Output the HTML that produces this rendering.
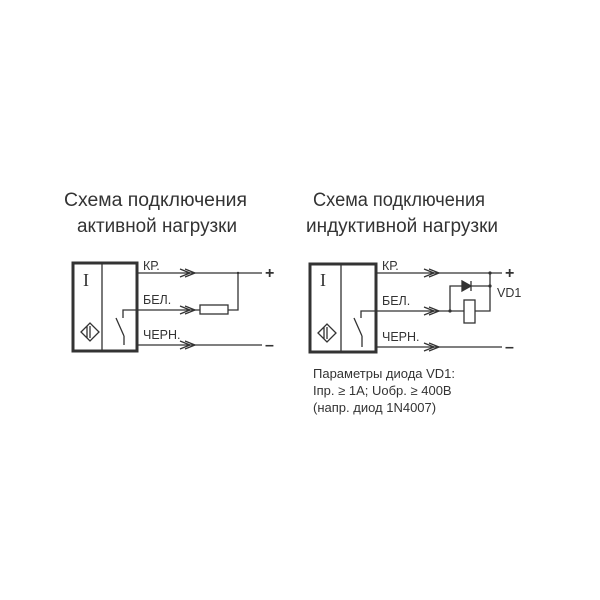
<!DOCTYPE html>
<html><head><meta charset="utf-8"><style>body{margin:0;background:#fff}svg{display:block}</style></head>
<body>
<svg width="600" height="600" xmlns="http://www.w3.org/2000/svg" font-family="Liberation Sans, DejaVu Sans, sans-serif" fill="#333">
<g font-size="19" fill="#333">
<text x="64" y="206" textLength="183" lengthAdjust="spacingAndGlyphs">Схема подключения</text>
<text x="77" y="232" textLength="160" lengthAdjust="spacingAndGlyphs">активной нагрузки</text>
<text x="313" y="206" textLength="172" lengthAdjust="spacingAndGlyphs">Схема подключения</text>
<text x="306" y="232" textLength="192" lengthAdjust="spacingAndGlyphs">индуктивной нагрузки</text>
</g>
<g stroke="#333" fill="none" stroke-width="1.3">
<rect x="73" y="263" width="64" height="88" stroke-width="3"/>
<line x1="102" y1="263" x2="102" y2="351"/>
<path d="M137 273H262 M137 310H200 M228 310H238V273 M137 345H262"/>
<rect x="200" y="305" width="28" height="9"/>
<path d="M137 310H123V318 M116 318L124 336 M124 336V345"/>
<path d="M180 269L190 273L180 277 M185 269L195 273L185 277"/>
<path d="M180 306L190 310L180 314 M185 306L195 310L185 314"/>
<path d="M180 341L190 345L180 349 M185 341L195 345L185 349"/>
<path d="M81 332L90 323L99 332L90 341Z M90 326V338 M87 326V338"/>
<rect x="310" y="264" width="66" height="88" stroke-width="3"/>
<line x1="341" y1="264" x2="341" y2="352"/>
<path d="M376 273H502 M376 311H450 M376 347H502"/>
<path d="M376 311H361V318 M354 318L362 336 M362 336V347"/>
<path d="M424 269L434 273L424 277 M429 269L439 273L429 277"/>
<path d="M424 307L434 311L424 315 M429 307L439 311L429 315"/>
<path d="M424 343L434 347L424 351 M429 343L439 347L429 351"/>
<path d="M450 311V286H490 M490 273V311H475 M450 311H464"/>
<path d="M462 281L471 286L462 291Z" fill="#333"/>
<path d="M471 281V291"/>
<rect x="464" y="300" width="11" height="23"/>
<path d="M318 333L327 324L336 333L327 342Z M327 327V339 M324 327V339"/>
</g>
<circle cx="450" cy="311" r="1.6"/><circle cx="490" cy="286" r="1.6"/><circle cx="490" cy="273" r="1.6"/><circle cx="238" cy="273" r="1.2"/>
<g font-size="12.5" fill="#333">
<text x="143" y="270">КР.</text>
<text x="143" y="304">БЕЛ.</text>
<text x="143" y="339">ЧЕРН.</text>
<text x="382" y="270">КР.</text>
<text x="382" y="305">БЕЛ.</text>
<text x="382" y="341">ЧЕРН.</text>
<text x="497" y="297">VD1</text>
</g>
<g font-size="16" fill="#333" font-weight="bold">
<text x="265" y="278">+</text><text x="265" y="350">–</text>
<text x="505" y="278">+</text><text x="505" y="352">–</text>
</g>
<g font-size="13" fill="#333">
<text x="313" y="378">Параметры диода VD1:</text>
<text x="313" y="395">Iпр. ≥ 1А; Uобр. ≥ 400В</text>
<text x="313" y="412">(напр. диод 1N4007)</text>
</g>
<g font-size="18" fill="#333" font-family="Liberation Serif, serif"><text x="83" y="286">I</text><text x="320" y="286">I</text></g>
</svg>
</body></html>
